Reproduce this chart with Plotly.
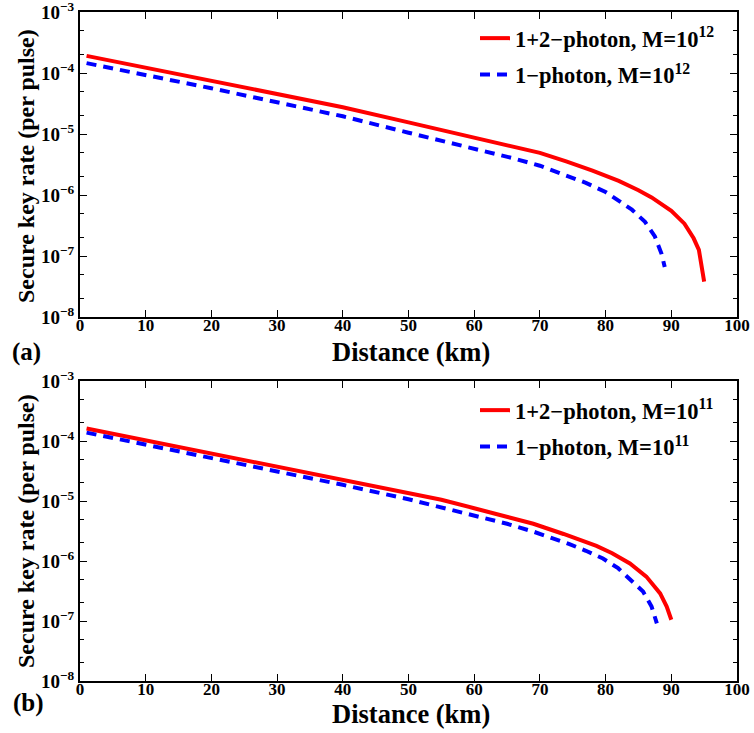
import plotly.graph_objects as go

# ---- data ----
dist_a_red = [1, 10, 20, 30, 40, 50, 60, 70, 74, 78, 82, 85, 87, 89, 90, 92, 93.4, 94.2, 95]
rate_a_red = [1.91e-4, 1.23e-4, 7.41e-5, 4.57e-5, 2.75e-5, 1.55e-5, 8.71e-6, 4.90e-6,
              3.55e-6, 2.51e-6, 1.70e-6, 1.20e-6, 9.12e-7, 6.61e-7, 5.50e-7, 3.39e-7,
              1.95e-7, 1.26e-7, 3.80e-8]
dist_a_blue = [1, 10, 20, 30, 40, 50, 60, 66, 70, 74, 77, 80, 82, 84, 86, 87.5, 88.5, 89]
rate_a_blue = [1.45e-4, 9.33e-5, 5.62e-5, 3.31e-5, 1.95e-5, 1.05e-5, 5.75e-6, 3.98e-6,
               3.02e-6, 2.09e-6, 1.58e-6, 1.12e-6, 8.13e-7, 5.75e-7, 3.63e-7, 2.09e-7,
               1.10e-7, 6.61e-8]
dist_b_red = [1, 10, 20, 30, 40, 50, 55, 60, 65, 69, 73.6, 78.6, 81, 83.7, 86.2, 88.3, 89.3, 90]
rate_b_red = [1.62e-4, 1.02e-4, 6.17e-5, 3.72e-5, 2.24e-5, 1.35e-5, 1.05e-5, 7.59e-6,
              5.50e-6, 4.17e-6, 2.82e-6, 1.78e-6, 1.35e-6, 9.12e-7, 5.50e-7, 2.88e-7,
              1.74e-7, 1.05e-7]
dist_b_blue = [1, 10, 20, 30, 40, 50, 54.3, 60, 65, 69, 72, 74.5, 77, 79.6, 81.9, 83.9,
               85.7, 87, 87.8]
rate_b_blue = [1.38e-4, 8.71e-5, 5.25e-5, 3.16e-5, 1.86e-5, 1.07e-5, 8.13e-6, 5.75e-6,
               4.17e-6, 3.09e-6, 2.40e-6, 1.91e-6, 1.48e-6, 1.10e-6, 7.59e-7, 4.79e-7,
               3.09e-7, 1.74e-7, 9.12e-8]

name_a_red = "1+2\u2212photon, M=10<sup>12</sup>"
name_a_blue = "1\u2212photon, M=10<sup>12</sup>"
name_b_red = "1+2\u2212photon, M=10<sup>11</sup>"
name_b_blue = "1\u2212photon, M=10<sup>11</sup>"

x_ticks = [0, 10, 20, 30, 40, 50, 60, 70, 80, 90, 100]
y_tickvals = [1e-8, 1e-7, 1e-6, 1e-5, 1e-4, 1e-3]
y_ticktext = ["10<sup>\u22128</sup>", "10<sup>\u22127</sup>", "10<sup>\u22126</sup>",
              "10<sup>\u22125</sup>", "10<sup>\u22124</sup>", "10<sup>\u22123</sup>"]

W, H = 754, 733
FONT = "Liberation Serif"

fig = go.Figure()
fig.add_trace(go.Scatter(x=dist_a_red, y=rate_a_red, mode="lines", name=name_a_red,
                         line=dict(color="#ff0000", width=4), xaxis="x", yaxis="y",
                         legend="legend", legendgroup="a1"))
fig.add_trace(go.Scatter(x=dist_a_blue, y=rate_a_blue, mode="lines", name=name_a_blue,
                         line=dict(color="#0000ff", width=4, dash="10px,7px"), xaxis="x", yaxis="y",
                         legend="legend", legendgroup="a2"))
fig.add_trace(go.Scatter(x=dist_b_red, y=rate_b_red, mode="lines", name=name_b_red,
                         line=dict(color="#ff0000", width=4), xaxis="x2", yaxis="y2",
                         legend="legend2", legendgroup="b1"))
fig.add_trace(go.Scatter(x=dist_b_blue, y=rate_b_blue, mode="lines", name=name_b_blue,
                         line=dict(color="#0000ff", width=4, dash="10px,7px"), xaxis="x2", yaxis="y2",
                         legend="legend2", legendgroup="b2"))

xdom = [80 / W, 737 / W]
ydom_a = [1 - 317 / H, 1 - 12 / H]
ydom_b = [1 - 681 / H, 1 - 381 / H]

xtickfont = dict(family=FONT, size=17, color="black", weight="bold")
ytickfont = dict(family=FONT, size=19, color="black", weight="bold")

def xaxis(dom, anchor):
    return dict(domain=dom, anchor=anchor, range=[0, 100], tickvals=x_ticks,
                ticks="inside", ticklen=7, tickwidth=1.2, tickcolor="black",
                showline=True, linewidth=2, linecolor="black", mirror="ticks",
                showgrid=False, zeroline=False, tickfont=xtickfont, automargin=False,
                ticklabeloverflow="allow", ticklabelstandoff=-8)

def yaxis(dom, anchor):
    return dict(domain=dom, anchor=anchor, type="log", range=[-8, -3],
                tickvals=y_tickvals, ticktext=y_ticktext,
                ticks="inside", ticklen=7, tickwidth=1.2, tickcolor="black",
                minor=dict(ticks="inside", ticklen=4, tickwidth=1, tickcolor="black", showgrid=False),
                showline=True, linewidth=2, linecolor="black", mirror="ticks",
                showgrid=False, zeroline=False, tickfont=ytickfont, automargin=False,
                ticklabeloverflow="allow")

legfont = dict(family=FONT, size=22.5, color="black", weight="bold")

fig.update_layout(
    width=W, height=H,
    margin=dict(l=0, r=0, t=0, b=0),
    paper_bgcolor="white", plot_bgcolor="white",
    xaxis=xaxis(xdom, "y"), yaxis=yaxis(ydom_a, "x"),
    xaxis2=xaxis(xdom, "y2"), yaxis2=yaxis(ydom_b, "x2"),
    legend=dict(x=475 / W, y=1 - 17 / H, xanchor="left", yanchor="top",
                bgcolor="rgba(0,0,0,0)", font=legfont, tracegroupgap=4),
    legend2=dict(x=475 / W, y=1 - 389 / H, xanchor="left", yanchor="top",
                 bgcolor="rgba(0,0,0,0)", font=legfont, tracegroupgap=4),
)

xtitlefont = dict(family=FONT, size=26.5, color="black", weight="bold")
ytitlefont = dict(family=FONT, size=24, color="black", weight="bold")
labfont = dict(family=FONT, size=25, color="black", weight="bold")
anns = [
    dict(text="Distance (km)", x=411 / W, y=1 - 352 / H, font=xtitlefont),
    dict(text="Distance (km)", x=411 / W, y=1 - 714 / H, font=xtitlefont),
    dict(text="Secure key rate (per pulse)", x=26 / W, y=1 - 166 / H, textangle=-90, font=ytitlefont),
    dict(text="Secure key rate (per pulse)", x=26 / W, y=1 - 531 / H, textangle=-90, font=ytitlefont),
    dict(text="(a)", x=26 / W, y=1 - 352 / H, font=labfont),
    dict(text="(b)", x=28 / W, y=1 - 703 / H, font=labfont),
]
for a in anns:
    fig.add_annotation(xref="paper", yref="paper", showarrow=False,
                       xanchor="center", yanchor="middle", **a)

fig.write_html("out.html", config={"displayModeBar": False},
               post_script="document.body.style.margin='0px';document.body.style.overflow='hidden';")
